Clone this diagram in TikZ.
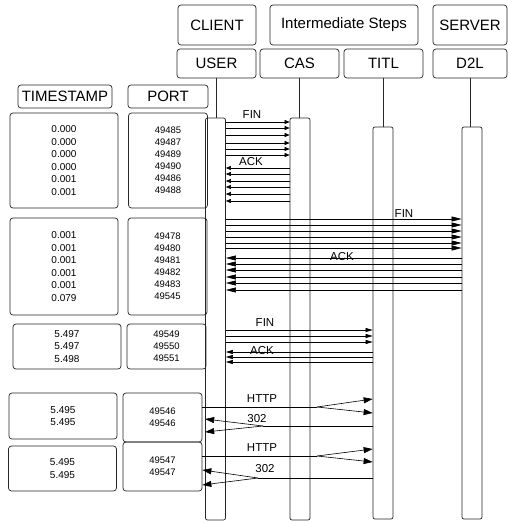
\documentclass[tikz,border=0pt]{standalone}
\usepackage{fontspec}
\setmainfont{Liberation Sans}
\usetikzlibrary{arrows.meta}

\tikzset{
  box/.style={draw=black!85, line width=0.7pt, rounded corners=3pt, inner sep=0pt, align=center},
  hdr/.style={box, font=\fontsize{15}{18}\selectfont},
  tsbox/.style={box, font=\fontsize{10}{12.6}\selectfont, minimum width=108pt},
  portbox/.style={box, font=\fontsize{9.5}{12}\selectfont, minimum width=79pt},
  bar/.style={draw=black!85, line width=0.7pt, rounded corners=2pt, minimum width=20pt, inner sep=0pt},
  stem/.style={draw=black!85, line width=0.6pt},
  lbl/.style={font=\fontsize{11.5}{13}\selectfont, inner sep=1pt},
  line/.style={line width=0.6pt},
  msg/.style={line width=0.6pt, -{Triangle[length=5pt,width=4pt]}},
  midmsg/.style={line width=0.6pt, -{Triangle[length=7pt,width=4pt]}},
  longmsg/.style={line width=0.6pt, -{Triangle[length=10pt,width=5pt]}},
  bigmsg/.style={line width=0.6pt, -{Triangle[length=9pt,width=6pt]}}
}

\begin{document}
\begin{tikzpicture}[x=1pt, y=-1pt]
  \useasboundingbox (0,0) rectangle (509,523);

  % headers
  \node[hdr, minimum width=78pt, minimum height=40pt] (client) at (217,25) {CLIENT};
  \node[hdr, minimum width=148pt, minimum height=40pt] (inter) at (344,25) {Intermediate Steps};
  \node[hdr, minimum width=74pt, minimum height=40pt] (server) at (470,25) {SERVER};
  \node[hdr, minimum width=79pt, minimum height=29pt] (user) at (216.5,63.5) {USER};
  \node[hdr, minimum width=79pt, minimum height=29pt] (cas) at (299.5,63.5) {CAS};
  \node[hdr, minimum width=79pt, minimum height=29pt] (titl) at (383.5,63.5) {TITL};
  \node[hdr, minimum width=74pt, minimum height=29pt] (dtl) at (470,63.5) {D2L};
  \node[hdr, minimum width=94pt, minimum height=23pt] (tshead) at (65,96.5) {TIMESTAMP};
  \node[hdr, minimum width=80pt, minimum height=23pt] (porthead) at (168,96.5) {PORT};

  % lifelines
  \node[bar, minimum height=402pt] (userbar) at (215.5,319) {};
  \node[bar, minimum height=402pt] (casbar) at (300,319) {};
  \node[bar, minimum height=392pt] (titlbar) at (383,323) {};
  \node[bar, minimum height=392pt] (dtlbar) at (472,323) {};
  \draw[stem] (user.south) -- (user.south |- userbar.north);
  \draw[stem] (cas.south) -- (cas.south |- casbar.north);
  \draw[stem] (titl.south) -- (titl.south |- titlbar.north);
  \draw[stem] (dtl.south) -- (dtl.south |- dtlbar.north);

  % captured packets
  \node[tsbox, minimum height=95pt] (ts1) at (64,160.5) {0.000\\0.000\\0.000\\0.000\\0.001\\0.001};
  \node[portbox, minimum height=95pt] (port1) at (168,160.5) {49485\\49487\\49489\\49490\\49486\\49488};
  \node[tsbox, minimum height=97pt] (ts2) at (64,266.5) {0.001\\0.001\\0.001\\0.001\\0.001\\0.079};
  \node[portbox, minimum height=97pt] (port2) at (167.5,266.5) {49478\\49480\\49481\\49482\\49483\\49545};
  \node[tsbox, minimum height=45pt] (ts3) at (67,346.5) {5.497\\5.497\\5.498};
  \node[portbox, minimum height=45pt] (port3) at (166.5,346.5) {49549\\49550\\49551};
  \node[tsbox, minimum height=46pt] (ts4) at (63,416) {5.495\\5.495};
  \node[portbox, minimum height=49pt] (port4) at (162.5,417.5) {49546\\49546};
  \node[tsbox, minimum height=45pt] (ts5) at (62.5,468.5) {5.495\\5.495};
  \node[portbox, minimum height=49pt] (port5) at (162.5,466.5) {49547\\49547};

  % labels
  \node[lbl] (fin1) at (252,115) {FIN};
  \node[lbl] (ack1) at (251,162) {ACK};
  \node[lbl] (fin2) at (404,214) {FIN};
  \node[lbl] (ack2) at (342,257) {ACK};
  \node[lbl] (fin3) at (265,323) {FIN};
  \node[lbl] (ack3) at (262,351) {ACK};
  \node[lbl] (http4) at (262,399) {HTTP};
  \node[lbl] (redir4) at (257,419) {302};
  \node[lbl] (http5) at (262,448) {HTTP};
  \node[lbl] (redir5) at (265,469) {302};

  % user <-> cas
  \foreach \y in {122,128,135,143,149,155}
    \draw[msg] (userbar.east |- 0,\y) -- (casbar.west |- 0,\y);
  \foreach \y in {168,174,181,187,194,201}
    \draw[msg] (casbar.west |- 0,\y) -- (userbar.east |- 0,\y);

  % user <-> d2l
  \foreach \y in {219,225,231,237,243,248}
    \draw[longmsg] (userbar.east |- 0,\y) -- (dtlbar.west |- 0,\y);
  \foreach \y in {258,264,270,277,283,290}
    \draw[longmsg] (dtlbar.west |- 0,\y) -- (userbar.east |- 0,\y);

  % user <-> titl
  \foreach \y in {330,336,342}
    \draw[midmsg] (userbar.east |- 0,\y) -- (titlbar.west |- 0,\y);
  \foreach \y in {352,357,362}
    \draw[midmsg] (titlbar.west |- 0,\y) -- (userbar.east |- 0,\y);

  % http requests
  \coordinate (split4) at (317,407);
  \coordinate (join4) at (263,426);
  \draw[line] (port4.east |- split4) -- (split4);
  \draw[bigmsg] (split4) -- (titlbar.west |- 0,399);
  \draw[bigmsg] (split4) -- (titlbar.west |- 0,413);
  \draw[line] (titlbar.west |- join4) -- (join4);
  \draw[bigmsg] (join4) -- (userbar.west |- 0,419);
  \draw[bigmsg] (join4) -- (userbar.west |- 0,432);

  \coordinate (split5) at (317,456);
  \coordinate (join5) at (258,478);
  \draw[line] (port5.east |- split5) -- (split5);
  \draw[bigmsg] (split5) -- (titlbar.west |- 0,449);
  \draw[bigmsg] (split5) -- (titlbar.west |- 0,462);
  \draw[line] (titlbar.west |- join5) -- (join5);
  \draw[bigmsg] (join5) -- (port5.east |- 0,470);
  \draw[bigmsg] (join5) -- (port5.east |- 0,485);
\end{tikzpicture}
\end{document}
